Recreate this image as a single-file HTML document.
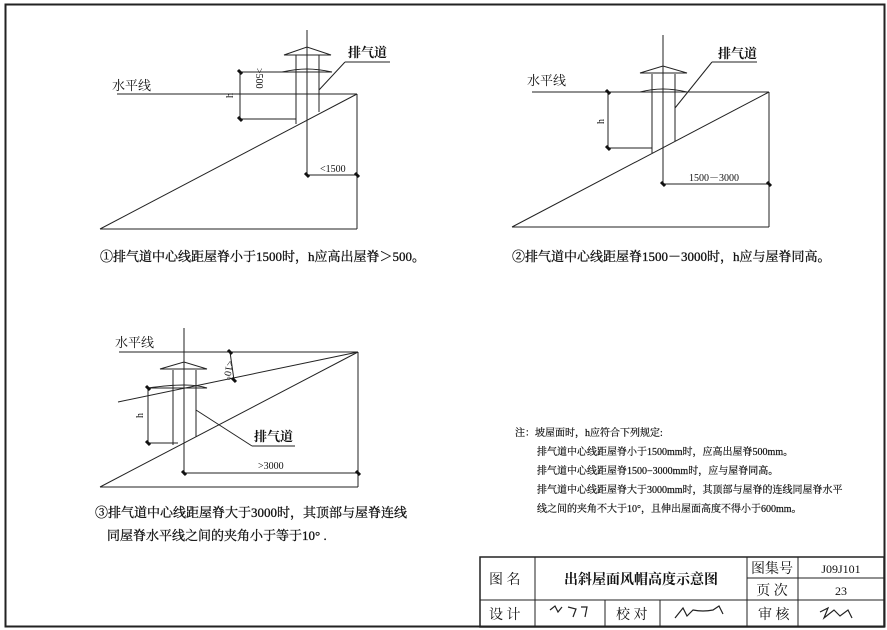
<!DOCTYPE html>
<html><head><meta charset="utf-8"><style>
html,body{margin:0;padding:0;background:#fff;}
svg{display:block;}
text{font-family:"Liberation Serif","Noto Serif CJK SC","Noto Sans CJK SC",serif;fill:#111;}
</style></head><body>
<svg width="887" height="630" viewBox="0 0 887 630" xmlns="http://www.w3.org/2000/svg">
<g fill="none" stroke="#222" stroke-width="1">
<rect x="5.5" y="4.5" width="879" height="622" stroke-width="2"/>

<line x1="117" y1="94" x2="357" y2="94"/>
<line x1="357" y1="94" x2="357" y2="229"/>
<line x1="100" y1="229" x2="357" y2="229"/>
<line x1="100" y1="229" x2="357" y2="94"/>
<line x1="307" y1="30" x2="307" y2="176"/>
<line x1="296" y1="55" x2="296" y2="124"/>
<line x1="319" y1="55" x2="319" y2="112"/>
<polygon points="284,55 307,47 331,55"/>
<line x1="284" y1="55" x2="331" y2="55"/>
<path d="M282 72 Q296 69 307 69 Q318 69 332 72 Z"/>
<line x1="240" y1="72" x2="240" y2="119"/>
<line x1="240" y1="72" x2="282" y2="72"/>
<line x1="240" y1="119" x2="296" y2="119"/>
<line x1="307" y1="175" x2="357" y2="175"/>
<line x1="345" y1="62" x2="390" y2="62"/>
<line x1="345" y1="62" x2="319" y2="90"/>

<line x1="532" y1="92" x2="769" y2="92"/>
<line x1="769" y1="92" x2="769" y2="227"/>
<line x1="512" y1="227" x2="769" y2="227"/>
<line x1="512" y1="227" x2="769" y2="92"/>
<line x1="663" y1="35" x2="663" y2="185"/>
<line x1="652" y1="74" x2="652" y2="153"/>
<line x1="675" y1="74" x2="675" y2="141"/>
<polygon points="640,73 663,66 687,73"/>
<path d="M640 92 Q652 89 663 89 Q674 89 687 92 Z"/>
<line x1="608" y1="92" x2="608" y2="148"/>
<line x1="608" y1="148" x2="652" y2="148"/>
<line x1="663" y1="184" x2="769" y2="184"/>
<line x1="712" y1="62" x2="757" y2="62"/>
<line x1="712" y1="62" x2="675" y2="108"/>

<line x1="119" y1="352" x2="358" y2="352"/>
<line x1="358" y1="352" x2="358" y2="487"/>
<line x1="100" y1="487" x2="358" y2="487"/>
<line x1="100" y1="487" x2="358" y2="352"/>
<line x1="118" y1="402" x2="358" y2="352"/>
<line x1="184" y1="328" x2="184" y2="475"/>
<line x1="173" y1="370" x2="173" y2="445"/>
<line x1="196" y1="370" x2="196" y2="437"/>
<polygon points="160,369 184,362 207,369"/>
<path d="M148 388 Q170 385 184 385 Q198 385 207 388 Z"/>
<line x1="148" y1="388" x2="148" y2="443"/>
<line x1="148" y1="443" x2="178" y2="443"/>
<line x1="230" y1="352" x2="234" y2="380"/>
<line x1="184" y1="473" x2="358" y2="473"/>
<line x1="196" y1="410" x2="252" y2="446"/>
<line x1="252" y1="446" x2="295" y2="446"/>

<rect x="480" y="557" width="404" height="70" stroke-width="1.5"/>
<line x1="480" y1="600" x2="884" y2="600"/>
<line x1="747" y1="578" x2="884" y2="578"/>
<line x1="535" y1="557" x2="535" y2="627"/>
<line x1="747" y1="557" x2="747" y2="627"/>
<line x1="798" y1="557" x2="798" y2="627"/>
<line x1="605" y1="600" x2="605" y2="627"/>
<line x1="660" y1="600" x2="660" y2="627"/>
<path d="M550 610 l5 -4 l3 6 l4 -5 m6 0 l8 2 l-3 8 m8 -10 l6 0 l-2 10" stroke-width="1.2"/>
<path d="M675 618 l8 -10 l4 8 l6 -6 q10 2 20 0 l6 -4 l4 8" stroke-width="1.2"/>
<path d="M820 612 l8 -4 l-4 10 l10 -8 l6 6 l8 -6 l4 8" stroke-width="1.2"/>
</g>
<g stroke="#111" stroke-width="3">
<line x1="238" y1="70" x2="242" y2="74"/><line x1="238" y1="117" x2="242" y2="121"/>
<line x1="305" y1="173" x2="309" y2="177"/><line x1="355" y1="173" x2="359" y2="177"/>
<line x1="606" y1="90" x2="610" y2="94"/><line x1="606" y1="146" x2="610" y2="150"/>
<line x1="661" y1="182" x2="665" y2="186"/><line x1="767" y1="182" x2="771" y2="186"/>
<line x1="146" y1="386" x2="150" y2="390"/><line x1="146" y1="441" x2="150" y2="445"/>
<line x1="228" y1="350" x2="232" y2="354"/><line x1="232" y1="378" x2="236" y2="382"/>
<line x1="182" y1="471" x2="186" y2="475"/><line x1="356" y1="471" x2="360" y2="475"/>
</g>
<g font-size="13">
<text x="112" y="90">水平线</text>
<text x="348" y="57" font-weight="bold">排气道</text>
<text x="527" y="85">水平线</text>
<text x="718" y="58" font-weight="bold">排气道</text>
<text x="115" y="347">水平线</text>
<text x="254" y="441" font-weight="bold">排气道</text>
</g>
<g font-size="10">
<text x="320" y="172">&lt;1500</text>
<text x="689" y="181">1500－3000</text>
<text x="258" y="469">&gt;3000</text>
<text transform="translate(256,68) rotate(90)">&gt;500</text>
<text transform="translate(233,98) rotate(-90)">h</text>
<text transform="translate(604,124) rotate(-90)">h</text>
<text transform="translate(143,418) rotate(-90)">h</text>
<text transform="translate(227,360) rotate(100)">&lt;10°</text>
</g>
<g font-size="13" stroke="#111" stroke-width="0.3">
<text x="100" y="261">①排气道中心线距屋脊小于1500时，h应高出屋脊＞500。</text>
<text x="512" y="261">②排气道中心线距屋脊1500－3000时，h应与屋脊同高。</text>
<text x="95" y="517">③排气道中心线距屋脊大于3000时，其顶部与屋脊连线</text>
<text x="107" y="540">同屋脊水平线之间的夹角小于等于10°  .</text>
</g>
<g font-size="10" stroke="#111" stroke-width="0.2">
<text x="515" y="436">注：坡屋面时，h应符合下列规定:</text>
<text x="537" y="455">排气道中心线距屋脊小于1500mm时，应高出屋脊500mm。</text>
<text x="537" y="474">排气道中心线距屋脊1500−3000mm时，应与屋脊同高。</text>
<text x="537" y="493">排气道中心线距屋脊大于3000mm时，其顶部与屋脊的连线同屋脊水平</text>
<text x="537" y="512">线之间的夹角不大于10°，且伸出屋面高度不得小于600mm。</text>
</g>
<g font-size="14">
<text x="489" y="584">图  名</text>
<text x="641" y="584" text-anchor="middle" font-weight="bold" font-family="Liberation Sans,Noto Sans CJK SC,sans-serif">出斜屋面风帽高度示意图</text>
<text x="772" y="573" text-anchor="middle">图集号</text>
<text x="841" y="573" text-anchor="middle" font-size="12">J09J101</text>
<text x="772" y="595" text-anchor="middle">页  次</text>
<text x="841" y="595" text-anchor="middle" font-size="12">23</text>
<text x="489" y="619">设  计</text>
<text x="616" y="619">校  对</text>
<text x="758" y="619">审  核</text>
</g>
</svg>
</body></html>
